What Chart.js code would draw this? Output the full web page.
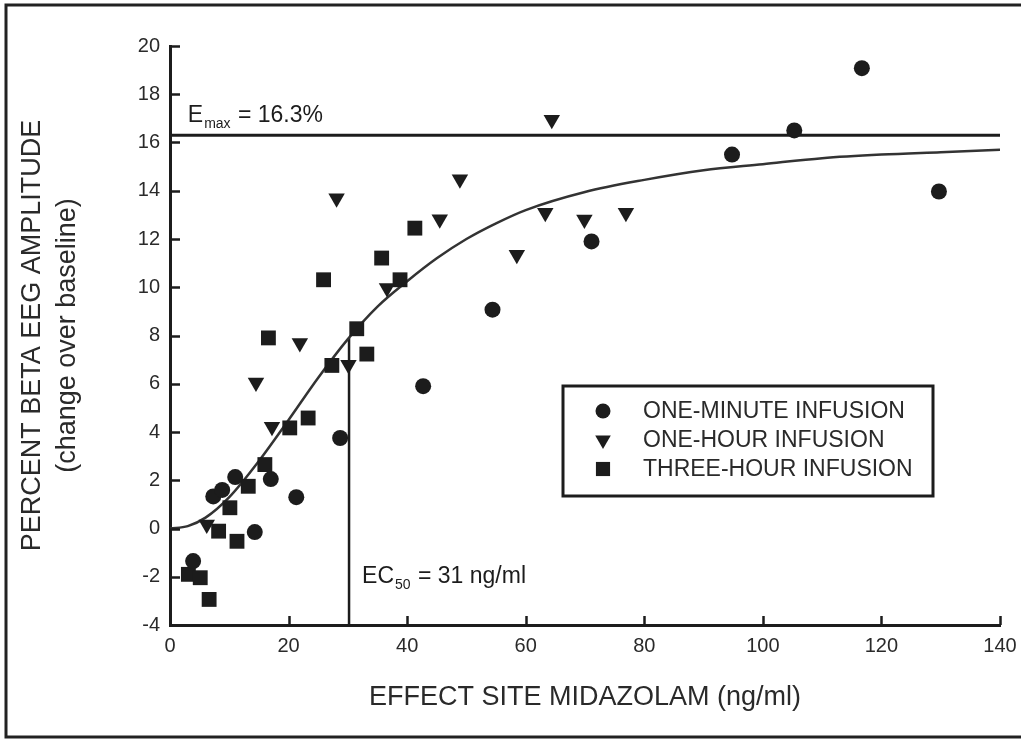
<!DOCTYPE html>
<html>
<head>
<meta charset="utf-8">
<script src="https://cdn.jsdelivr.net/npm/chart.js@4.4.1/dist/chart.umd.min.js"></script>
<style>
  html, body { margin: 0; padding: 0; background: #fff; }
  canvas { display: block; }
</style>
</head>
<body>
<canvas id="c" width="1021" height="749"></canvas>
<script>
// ---- data ----
const oneMinuteX = [3.9, 7.3, 8.8, 11.0, 14.3, 17.0, 21.3, 28.7, 42.7, 54.4, 71.1, 94.8, 105.3, 116.7, 129.7];
const oneMinuteY = [-1.35, 1.33, 1.6, 2.13, -0.15, 2.05, 1.3, 3.75, 5.9, 9.07, 11.9, 15.5, 16.5, 19.08, 13.97];

const oneHourX = [6.2, 14.5, 17.2, 21.9, 28.1, 30.1, 36.6, 45.5, 48.9, 58.5, 63.3, 64.4, 69.9, 76.9];
const oneHourY = [0.17, 6.05, 4.22, 7.69, 13.69, 6.79, 9.97, 12.82, 14.48, 11.35, 13.09, 16.94, 12.81, 13.09];

const threeHourX = [3.1, 5.1, 6.6, 8.2, 10.1, 11.3, 13.2, 16.0, 20.2, 23.3, 16.6, 25.9, 27.3, 31.5, 33.2, 35.7, 38.8, 41.3];
const threeHourY = [-1.9, -2.04, -2.94, -0.11, 0.86, -0.53, 1.75, 2.65, 4.17, 4.58, 7.9, 10.31, 6.76, 8.28, 7.23, 11.21, 10.31, 12.45];

// fitted curve
const fitX = [0, 3, 6, 10, 15, 20, 25, 30, 35, 40, 45, 50, 55, 60, 70, 80, 90, 100, 110, 120, 130, 140];
const fitY = [0, 0.1, 0.45, 1.3, 2.8, 4.5, 6.25, 7.85, 9.2, 10.25, 11.2, 12.0, 12.65, 13.2, 13.95, 14.45, 14.85, 15.1, 15.35, 15.5, 15.6, 15.7];

const emaxValue = 16.3;
const ec50LineX = 30.2;
const ec50LineTop = 7.9;

const seriesLabels = ['ONE-MINUTE INFUSION', 'ONE-HOUR INFUSION', 'THREE-HOUR INFUSION'];
const xTickValues = [0, 20, 40, 60, 80, 100, 120, 140];
const yTickValues = [-4, -2, 0, 2, 4, 6, 8, 10, 12, 14, 16, 18, 20];
const xTitle = 'EFFECT SITE MIDAZOLAM (ng/ml)';
const yTitle = ['PERCENT BETA EEG AMPLITUDE', '(change over baseline)'];
const emaxText = ['E', 'max', ' = 16.3%'];
const ec50Text = ['EC', '50', ' = 31 ng/ml'];

// ---- build ----
const FONT = "'Liberation Sans', Arial, Helvetica, sans-serif";
const INK = '#1c1c1c';
const pts = (xs, ys) => xs.map((x, i) => ({ x, y: ys[i] }));

function drawMarker(ctx, style, x, y, r) {
  ctx.save();
  ctx.fillStyle = INK;
  ctx.beginPath();
  if (style === 'circle') {
    ctx.arc(x, y, r, 0, Math.PI * 2);
  } else if (style === 'rect') {
    const s = Math.SQRT1_2 * r;
    ctx.rect(x - s, y - s, 2 * s, 2 * s);
  } else if (style === 'triangle') {
    let a = Math.PI;
    ctx.moveTo(x + Math.sin(a) * r, y - Math.cos(a) * r);
    a += 2 * Math.PI / 3;
    ctx.lineTo(x + Math.sin(a) * r, y - Math.cos(a) * r);
    a += 2 * Math.PI / 3;
    ctx.lineTo(x + Math.sin(a) * r, y - Math.cos(a) * r);
    ctx.closePath();
  }
  ctx.fill();
  ctx.restore();
}

const decorPlugin = {
  id: 'decor',
  beforeDraw(chart) {
    const ctx = chart.ctx;
    ctx.save();
    ctx.fillStyle = '#fff';
    ctx.fillRect(0, 0, chart.width, chart.height);
    ctx.restore();
  },
  afterDraw(chart) {
    const ctx = chart.ctx;
    const xs = chart.scales.x, ys = chart.scales.y;
    const area = chart.chartArea;
    ctx.save();
    ctx.strokeStyle = '#222';
    ctx.lineWidth = 3;
    ctx.strokeRect(6, 5, 1040, 732);

    ctx.strokeStyle = INK;
    ctx.lineWidth = 2.5;
    ctx.beginPath();
    yTickValues.forEach(v => {
      const py = Math.round(ys.getPixelForValue(v)) + 0.5;
      ctx.moveTo(area.left, py);
      ctx.lineTo(area.left + 10, py);
    });
    xTickValues.forEach(v => {
      const px = Math.round(xs.getPixelForValue(v)) + 0.5;
      ctx.moveTo(px, area.bottom);
      ctx.lineTo(px, area.bottom - 9);
    });
    ctx.stroke();

    ctx.fillStyle = INK;
    ctx.textBaseline = 'alphabetic';
    ctx.textAlign = 'left';
    const big = '23px ' + FONT, small = '14px ' + FONT;
    function subText(parts, x, y) {
      ctx.font = big; ctx.fillText(parts[0], x, y); x += ctx.measureText(parts[0]).width;
      ctx.font = small; ctx.fillText(parts[1], x + 1, y + 6); x += ctx.measureText(parts[1]).width + 2;
      ctx.font = big; ctx.fillText(parts[2], x, y);
    }
    subText(emaxText, xs.getPixelForValue(3), ys.getPixelForValue(emaxValue) - 13);
    subText(ec50Text, xs.getPixelForValue(ec50LineX) + 13, ys.getPixelForValue(-2.25));

    const lx = 563, ly = 386, lw = 370, lh = 110;
    ctx.strokeStyle = INK;
    ctx.lineWidth = 3;
    ctx.strokeRect(lx, ly, lw, lh);
    ctx.font = '23px ' + FONT;
    ctx.textBaseline = 'middle';
    [0, 1, 2].forEach(i => {
      const ds = chart.data.datasets[i];
      const cy = ly + 25 + i * 29;
      drawMarker(ctx, ds.pointStyle, lx + 40, cy, ds.pointStyle === 'circle' ? 7.5 : (ds.pointStyle === 'rect' ? 10 : 9));
      ctx.fillStyle = '#2a2a2a';
      ctx.fillText(ds.label, lx + 80, cy + 1);
    });
    ctx.restore();
  }
};

const chart = new Chart(document.getElementById('c'), {
  type: 'scatter',
  data: {
    datasets: [
      { label: seriesLabels[0], data: pts(oneMinuteX, oneMinuteY), pointStyle: 'circle', pointRadius: 8,
        backgroundColor: INK, borderColor: INK, borderWidth: 0, order: 1 },
      { label: seriesLabels[1], data: pts(oneHourX, oneHourY), pointStyle: 'triangle', rotation: 180, pointRadius: 9.5,
        backgroundColor: INK, borderColor: INK, borderWidth: 0, order: 1 },
      { label: seriesLabels[2], data: pts(threeHourX, threeHourY), pointStyle: 'rect', pointRadius: 10.5,
        backgroundColor: INK, borderColor: INK, borderWidth: 0, order: 1 },
      { type: 'line', label: 'fit', data: pts(fitX, fitY), showLine: true, pointRadius: 0,
        borderColor: '#333', borderWidth: 2.5, cubicInterpolationMode: 'monotone', fill: false, order: 2 },
      { type: 'line', label: 'emax', data: [{ x: 0, y: emaxValue }, { x: 140, y: emaxValue }], showLine: true,
        pointRadius: 0, borderColor: INK, borderWidth: 3, fill: false, order: 2 },
      { type: 'line', label: 'ec50', data: [{ x: ec50LineX, y: -4 }, { x: ec50LineX, y: ec50LineTop }], showLine: true,
        pointRadius: 0, borderColor: INK, borderWidth: 2.5, fill: false, order: 2 }
    ]
  },
  options: {
    responsive: false,
    animation: false,
    events: [],
    layout: { padding: { left: 0, top: 46, right: 21, bottom: 0 } },
    plugins: { legend: { display: false }, tooltip: { enabled: false } },
    scales: {
      x: {
        type: 'linear', min: 0, max: 140,
        afterBuildTicks: s => { s.ticks = xTickValues.map(v => ({ value: v })); },
        afterFit: s => { s.height = 124; s.paddingRight = 0; s.paddingLeft = 0; },
        grid: { display: false, drawTicks: false },
        border: { display: true, color: INK, width: 3 },
        ticks: { color: '#2a2a2a', font: { family: FONT, size: 20 }, padding: 9, maxRotation: 0 },
        title: { display: true, text: xTitle, color: '#2a2a2a', font: { family: FONT, size: 27 }, padding: { top: 0, bottom: 35 } }
      },
      y: {
        type: 'linear', min: -4, max: 20,
        afterBuildTicks: s => { s.ticks = yTickValues.map(v => ({ value: v })); },
        afterFit: s => { s.width = 170; s.paddingTop = 0; s.paddingBottom = 0; },
        grid: { display: false, drawTicks: false },
        border: { display: true, color: INK, width: 3 },
        ticks: { color: '#2a2a2a', font: { family: FONT, size: 20 }, padding: 10 },
        title: { display: true, text: yTitle, color: '#2a2a2a', font: { family: FONT, size: 27, lineHeight: 1.3 }, padding: { top: 15, bottom: 0 } }
      }
    }
  },
  plugins: [decorPlugin]
});
</script>
</body>
</html>
